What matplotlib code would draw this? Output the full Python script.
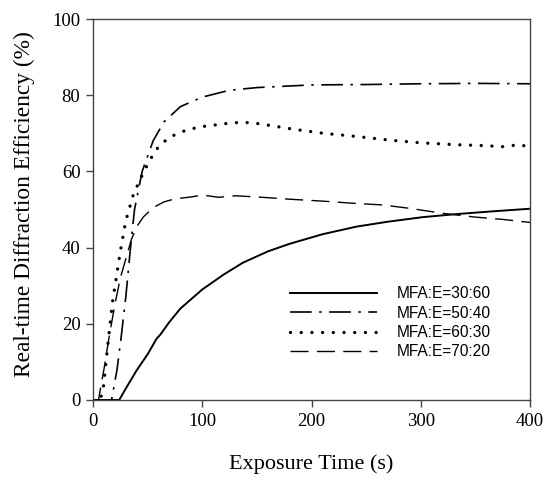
import matplotlib
matplotlib.use("Agg")
import matplotlib.pyplot as plt
import numpy as np

# MFA:E=30:60 (solid)
t_a = [0, 24, 30, 40, 50, 58, 62, 70, 80, 90, 100, 120, 137, 160, 180, 210, 241, 270, 302, 333, 365, 400]
y_a = [0, 0, 3, 7.8, 12, 16, 17.3, 20.5, 24, 26.5, 29, 33, 36, 39, 41, 43.5, 45.5, 46.8, 48, 48.8, 49.5, 50.2]

# MFA:E=50:40 (dash-dot)
t_b = [0, 17, 22, 26, 30, 34, 38, 45, 55, 65, 80, 100, 125, 150, 200, 250, 300, 350, 400]
y_b = [0, 0, 8, 17, 27, 39, 50, 60, 68, 73, 77, 79.5, 81.3, 82, 82.7, 82.8, 83, 83.1, 83]

# MFA:E=60:30 (dotted)
t_c = [0, 6, 9, 13, 18, 25, 30, 37, 45, 52, 60, 70, 85, 98, 115, 128, 145, 159, 185, 211, 240, 272, 300, 333, 355, 375, 390, 400]
y_c = [0, 0, 2, 13, 26, 39, 47, 54, 59, 63, 66.5, 69, 70.8, 71.7, 72.3, 72.8, 72.8, 72.2, 71, 70, 69.2, 68.2, 67.5, 67, 66.8, 66.5, 67, 66.4]

# MFA:E=70:20 (dashed)
t_d = [0, 5, 10, 15, 20, 25, 30, 35, 40, 46, 55, 65, 75, 90, 100, 115, 130, 150, 180, 210, 240, 265, 290, 320, 350, 375, 400]
y_d = [0, 0, 8, 17, 25, 32, 37, 42, 45.5, 48, 50.5, 52, 52.8, 53.3, 53.8, 53.2, 53.6, 53.3, 52.7, 52.2, 51.6, 51.2, 50.3, 49, 48, 47.4, 46.6]

labels = ["MFA:E=30:60", "MFA:E=50:40", "MFA:E=60:30", "MFA:E=70:20"]

fig = plt.figure(figsize=(5.46, 4.8), dpi=100)
ax = fig.add_axes([93 / 546, 80 / 480, 437 / 546, 381 / 480])

ax.plot(t_a, y_a, color="black", lw=1.4, label=labels[0])
ax.plot(t_b, y_b, color="black", lw=1.2, dashes=(13, 4.5, 1.5, 4.5), label=labels[1])
ax.plot(t_c, y_c, color="black", lw=2.4, dashes=(0.01, 3.2), dash_capstyle="round", label=labels[2])
ax.plot(t_d, y_d, color="black", lw=1.0, dashes=(13, 6), label=labels[3])

ax.set_xlim(0, 400)
ax.set_ylim(0, 100)
ax.set_xticks([0, 100, 200, 300, 400])
ax.set_yticks([0, 20, 40, 60, 80, 100])

for s in ax.spines.values():
    s.set_color("#444444")
    s.set_linewidth(1.0)
ax.tick_params(direction="out", length=5, width=1.0, color="#444444", labelsize=13.5, pad=4)
for lab in ax.get_xticklabels() + ax.get_yticklabels():
    lab.set_fontfamily("Liberation Serif")

ax.set_xlabel("Exposure Time (s)", fontsize=16, family="Liberation Serif", labelpad=18)
ax.set_ylabel("Real-time Diffraction Efficiency (%)", fontsize=16.8, family="Liberation Serif")
ax.yaxis.set_label_coords(-0.133, 0.515)

leg = ax.legend(loc="upper left", bbox_to_anchor=(0.418, 0.335), frameon=False,
                prop={"family": "Liberation Sans", "size": 11.2},
                handlelength=5.6, handletextpad=1.3, labelspacing=0.28)

fig.savefig("out.png", dpi=100)
